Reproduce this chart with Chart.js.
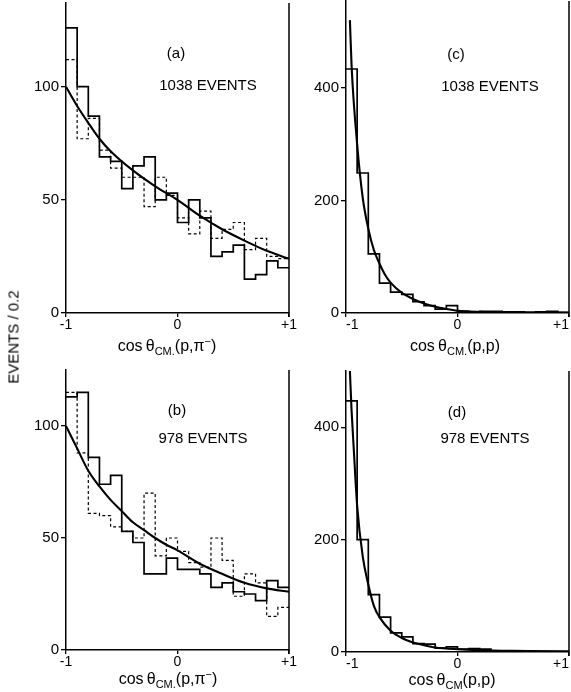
<!DOCTYPE html>
<html>
<head>
<meta charset="utf-8">
<script src="https://cdn.jsdelivr.net/npm/chart.js@4.4.1/dist/chart.umd.min.js"></script>
<style>
  html, body { margin: 0; padding: 0; background: #fff; }
  #page { position: relative; width: 571px; height: 692px; overflow: hidden; font-family: "Liberation Sans", Arial, sans-serif; color: #000; }
  #page canvas { position: absolute; left: 0; top: 0; }
  .lbl { position: absolute; transform: translate(-50%, -50%); white-space: nowrap; font-size: 15px; line-height: 1; }
  .ttl { position: absolute; transform: translate(-50%, -50%); white-space: nowrap; font-size: 16px; line-height: 1; }
  .ttl sub { font-size: 11px; vertical-align: -4px; }
  .ttl sup { font-size: 11px; vertical-align: 6px; }
  .ylab { position: absolute; left: 13px; top: 337px; transform: translate(-50%, -50%) rotate(-90deg); white-space: nowrap; font-size: 15px; line-height: 1; color: #000; }
</style>
</head>
<body>
<div id="page">
  <canvas id="pa" width="571" height="692"></canvas>
  <canvas id="pb" width="571" height="692"></canvas>
  <canvas id="pc" width="571" height="692"></canvas>
  <canvas id="pd" width="571" height="692"></canvas>

  <div class="lbl" style="left:176px; top:52px;">(a)</div>
  <div class="lbl" style="left:208px; top:84px;">1038 EVENTS</div>
  <div class="lbl" style="left:456px; top:53px;">(c)</div>
  <div class="lbl" style="left:490px; top:85px;">1038 EVENTS</div>
  <div class="lbl" style="left:177px; top:409px;">(b)</div>
  <div class="lbl" style="left:203px; top:437px;">978 EVENTS</div>
  <div class="lbl" style="left:457px; top:411px;">(d)</div>
  <div class="lbl" style="left:485px; top:437px;">978 EVENTS</div>

  <div class="ttl" style="left:167px; top:346px;">cos&thinsp;θ<sub>CM.</sub>(p,π<sup>−</sup>)</div>
  <div class="ttl" style="left:455px; top:347px;">cos&thinsp;θ<sub>CM.</sub>(p,p)</div>
  <div class="ttl" style="left:168px; top:679px;">cos&thinsp;θ<sub>CM.</sub>(p,π<sup>−</sup>)</div>
  <div class="ttl" style="left:452px; top:681px;">cos&thinsp;θ<sub>CM</sub>(p,p)</div>

  <div class="ylab">EVENTS / 0.2</div>
</div>

<script>
// bins of cos(theta) in steps of 0.1
const binLo = [-1.0, -0.9, -0.8, -0.7, -0.6, -0.5, -0.4, -0.3, -0.2, -0.1,
               0.0, 0.1, 0.2, 0.3, 0.4, 0.5, 0.6, 0.7, 0.8, 0.9];
const binHi = 1.0;

const xTicks = [-1, 0, 1];
const yTicksAB = [0, 50, 100];
const yTicksCD = [0, 200, 400];

// (a) p pi- , 1038 events
const solidA  = [126, 100, 87, 69, 67, 55, 65, 69, 50, 53, 40, 50, 42, 25, 27, 30, 15, 17, 23, 20];
const dashedA = [112, 77, 86, 72, 64, 60, 60, 47, 60, 52, 42, 35, 45, 33, 37, 40, 28, 33, 25, 24];
const fitAx = [-1, -0.9, -0.8, -0.7, -0.6, -0.4, -0.2, 0, 0.2, 0.4, 0.6, 0.8, 1];
const fitAy = [100, 91.5, 84, 77, 71.5, 63, 56, 50, 43, 37, 32, 27.5, 24];

// (b) p pi- , 978 events
const solidB  = [113, 115, 86, 74, 78, 53, 48, 34, 34, 41, 36, 36, 34, 28, 30, 26, 25, 22, 31, 28];
const dashedB = [115, 88, 61, 60, 55, 53, 50, 70, 42, 50, 44, 39, 37, 50, 40, 24, 34, 30, 15, 19];
const fitBx = [-1, -0.9, -0.8, -0.7, -0.6, -0.5, -0.4, -0.3, -0.2, -0.1, 0, 0.2, 0.4, 0.6, 0.8, 1];
const fitBy = [100, 90, 80, 73, 67, 62, 57, 53.5, 50, 47, 44.5, 38.5, 34, 30, 27.5, 26];

// (c) p p , 1038 events
const histC = [434, 249, 105, 53, 37, 33, 20, 13, 7, 13, 3, 2, 3, 3, 2, 2, 1, 2, 3, 1];
const fitCx = [-0.965, -0.95, -0.9, -0.85, -0.8, -0.75, -0.7, -0.65, -0.6, -0.5, -0.4, -0.3, -0.2, -0.1, 0, 0.2, 0.5, 1];
const fitCy = [521, 440, 300, 205, 150, 112, 88, 68, 54, 36, 25, 17, 11, 7, 4, 2, 1, 0.5];

// (d) p p , 978 events
const histD = [447, 200, 102, 62, 34, 27, 15, 14, 7, 9, 5, 6, 5, 2, 2, 1, 1, 1, 1, 1];
const fitDx = [-0.965, -0.95, -0.93, -0.9, -0.85, -0.8, -0.75, -0.7, -0.6, -0.5, -0.4, -0.3, -0.2, 0, 0.5, 1];
const fitDy = [500, 430, 360, 260, 170, 120, 82, 62, 38, 25, 17, 12, 8, 5, 2, 1];

const W = 571, H = 692;
const Y_W = 40, X_H = 20;
const FONT = '"Liberation Sans", Arial, sans-serif';

function histPoints(vals) {
    const pts = binLo.map((x, i) => ({ x: x, y: vals[i] }));
    pts.push({ x: binHi, y: vals[vals.length - 1] });
    return pts;
}

function curvePoints(xs, ys) {
    return xs.map((x, i) => ({ x: x, y: ys[i] }));
}

function histSet(vals, dashed) {
    return {
        data: histPoints(vals),
        stepped: 'before',
        borderColor: '#000',
        borderWidth: dashed ? 1.2 : 1.7,
        borderDash: dashed ? [3, 2.5] : [],
        pointRadius: 0,
        fill: false
    };
}

function curveSet(xs, ys) {
    return {
        data: curvePoints(xs, ys),
        borderColor: '#000',
        borderWidth: 2.1,
        cubicInterpolationMode: 'monotone',
        pointRadius: 0,
        fill: false
    };
}

// right-hand frame line at cos = +1
const frameRight = {
    id: 'frameRight',
    afterDraw(chart) {
        const { ctx, chartArea: a } = chart;
        ctx.save();
        ctx.strokeStyle = '#000';
        ctx.lineWidth = 1.5;
        ctx.beginPath();
        ctx.moveTo(a.right, a.top);
        ctx.lineTo(a.right, a.bottom + 4);
        ctx.stroke();
        ctx.restore();
    }
};

// edgeLabels: 'center' or 'inner' (keeps "+1" inside the page on the right column)
function makeChart(id, area, yMax, yTicks, datasets, edgeLabels) {
    return new Chart(document.getElementById(id), {
        type: 'line',
        data: { datasets: datasets },
        options: {
            responsive: false,
            animation: false,
            devicePixelRatio: 1,
            layout: {
                padding: {
                    left: area.left - Y_W,
                    right: W - area.right,
                    top: area.top,
                    bottom: H - area.bottom - X_H
                }
            },
            plugins: { legend: { display: false }, tooltip: { enabled: false } },
            scales: {
                x: {
                    type: 'linear',
                    min: -1, max: 1,
                    afterBuildTicks: s => { s.ticks = xTicks.map(v => ({ value: v })); },
                    afterFit: s => { s.height = X_H; s.paddingLeft = 0; s.paddingRight = 0; },
                    grid: { display: true, drawOnChartArea: false, drawTicks: true, tickLength: 4, color: '#000', lineWidth: 1.3 },
                    border: { display: true, color: '#000', width: 1.5 },
                    ticks: {
                        color: '#000',
                        padding: 0,
                        maxRotation: 0,
                        align: edgeLabels,
                        font: { family: FONT, size: 14 },
                        callback: v => (v > 0 ? '+' + v : String(v))
                    }
                },
                y: {
                    type: 'linear',
                    min: 0, max: yMax,
                    afterBuildTicks: s => { s.ticks = yTicks.map(v => ({ value: v })); },
                    afterFit: s => { s.width = Y_W; s.paddingTop = 0; s.paddingBottom = 0; },
                    grid: { display: true, drawOnChartArea: false, drawTicks: true, tickLength: 5, color: '#000', lineWidth: 1.3 },
                    border: { display: true, color: '#000', width: 1.5 },
                    ticks: {
                        color: '#000',
                        padding: 2,
                        font: { family: FONT, size: 15 }
                    }
                }
            }
        },
        plugins: [frameRight]
    });
}

makeChart('pa', { left: 66, right: 289, top: 3, bottom: 313 }, 137, yTicksAB, [
    histSet(dashedA, true),
    histSet(solidA, false),
    curveSet(fitAx, fitAy)
], 'center');

makeChart('pb', { left: 66, right: 289, top: 370, bottom: 650 }, 125, yTicksAB, [
    histSet(dashedB, true),
    histSet(solidB, false),
    curveSet(fitBx, fitBy)
], 'center');

makeChart('pc', { left: 346, right: 569, top: 1, bottom: 313 }, 555, yTicksCD, [
    histSet(histC, false),
    curveSet(fitCx, fitCy)
], 'inner');

makeChart('pd', { left: 346, right: 569, top: 371, bottom: 652 }, 500, yTicksCD, [
    histSet(histD, false),
    curveSet(fitDx, fitDy)
], 'inner');
</script>
</body>
</html>
